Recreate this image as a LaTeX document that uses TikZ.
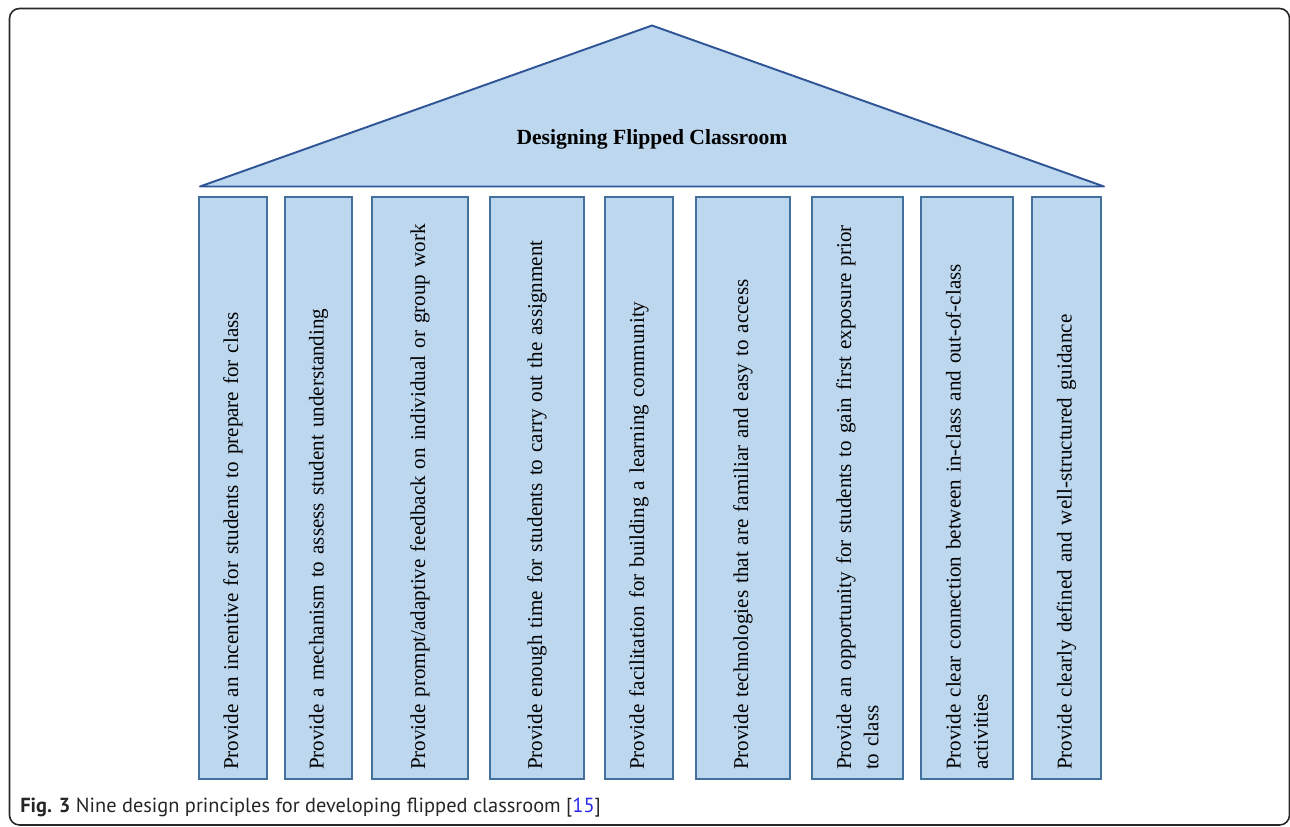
\documentclass[tikz,border=0pt]{standalone}
\usepackage{fontspec}
\setmainfont{Liberation Serif}
\newfontfamily\capfont{PT Sans}
\definecolor{pillarfill}{RGB}{189,215,238}
\definecolor{pillarline}{RGB}{65,113,156}
\definecolor{roofline}{RGB}{47,85,151}
\definecolor{citeblue}{RGB}{40,40,230}
\definecolor{framegray}{RGB}{40,40,40}
\begin{document}
\begin{tikzpicture}[x=0.02cm,y=-0.02cm]
\tikzset{every node/.style={font=\fontsize{12}{15.5}\selectfont}}
\tikzset{pillar/.style={rotate=90, draw=pillarline, fill=pillarfill, line width=1.1pt,
  minimum height=#1, text width=11.28cm, align=left, inner xsep=0.18cm, inner ysep=0pt}}
\useasboundingbox (0,0) rectangle (1290,827);

% Frame
\draw[framegray, line width=0.9pt, rounded corners=0.2cm] (9.5,8.5) rectangle (1289.5,825);

% Roof
\draw[roofline, fill=pillarfill, line width=1.1pt, line join=round] (200,186.5) -- (652,25.5) -- (1104,186.5) -- cycle;
\node[font=\fontsize{12.3}{14}\selectfont\bfseries] (title) at (652,139) {Designing Flipped Classroom};

% Pillars
\node[pillar=1.36cm] (p1) at (233,488) {Provide an incentive for students to prepare for class};
\node[pillar=1.34cm] (p2) at (318.5,488) {Provide a mechanism to assess student understanding};
\node[pillar=1.92cm] (p3) at (420,488) {Provide prompt/adaptive feedback on individual or group work};
\node[pillar=1.87cm] (p4) at (537,488) {Provide enough time for students to carry out the assignment};
\node[pillar=1.36cm] (p5) at (639,488) {Provide facilitation for building a learning community};
\node[pillar=1.88cm] (p6) at (743,488) {Provide technologies that are familiar and easy to access};
\node[pillar=1.82cm] (p7) at (857.5,488) {Provide an opportunity for students to gain first exposure prior\\to class};
\node[pillar=1.84cm] (p8) at (967,488) {Provide clear connection between in-class and out-of-class\\activities};
\node[pillar=1.38cm] (p9) at (1066.5,488) {Provide clearly defined and well-structured guidance};

% Caption
\node[anchor=base west, inner sep=0pt, text=black!85] (caption) at (20,812)
  {\capfont\fontsize{11.6}{14}\selectfont\textbf{Fig. 3} Nine design principles for developing flipped classroom [\textcolor{citeblue}{15}]};

\end{tikzpicture}
\end{document}
